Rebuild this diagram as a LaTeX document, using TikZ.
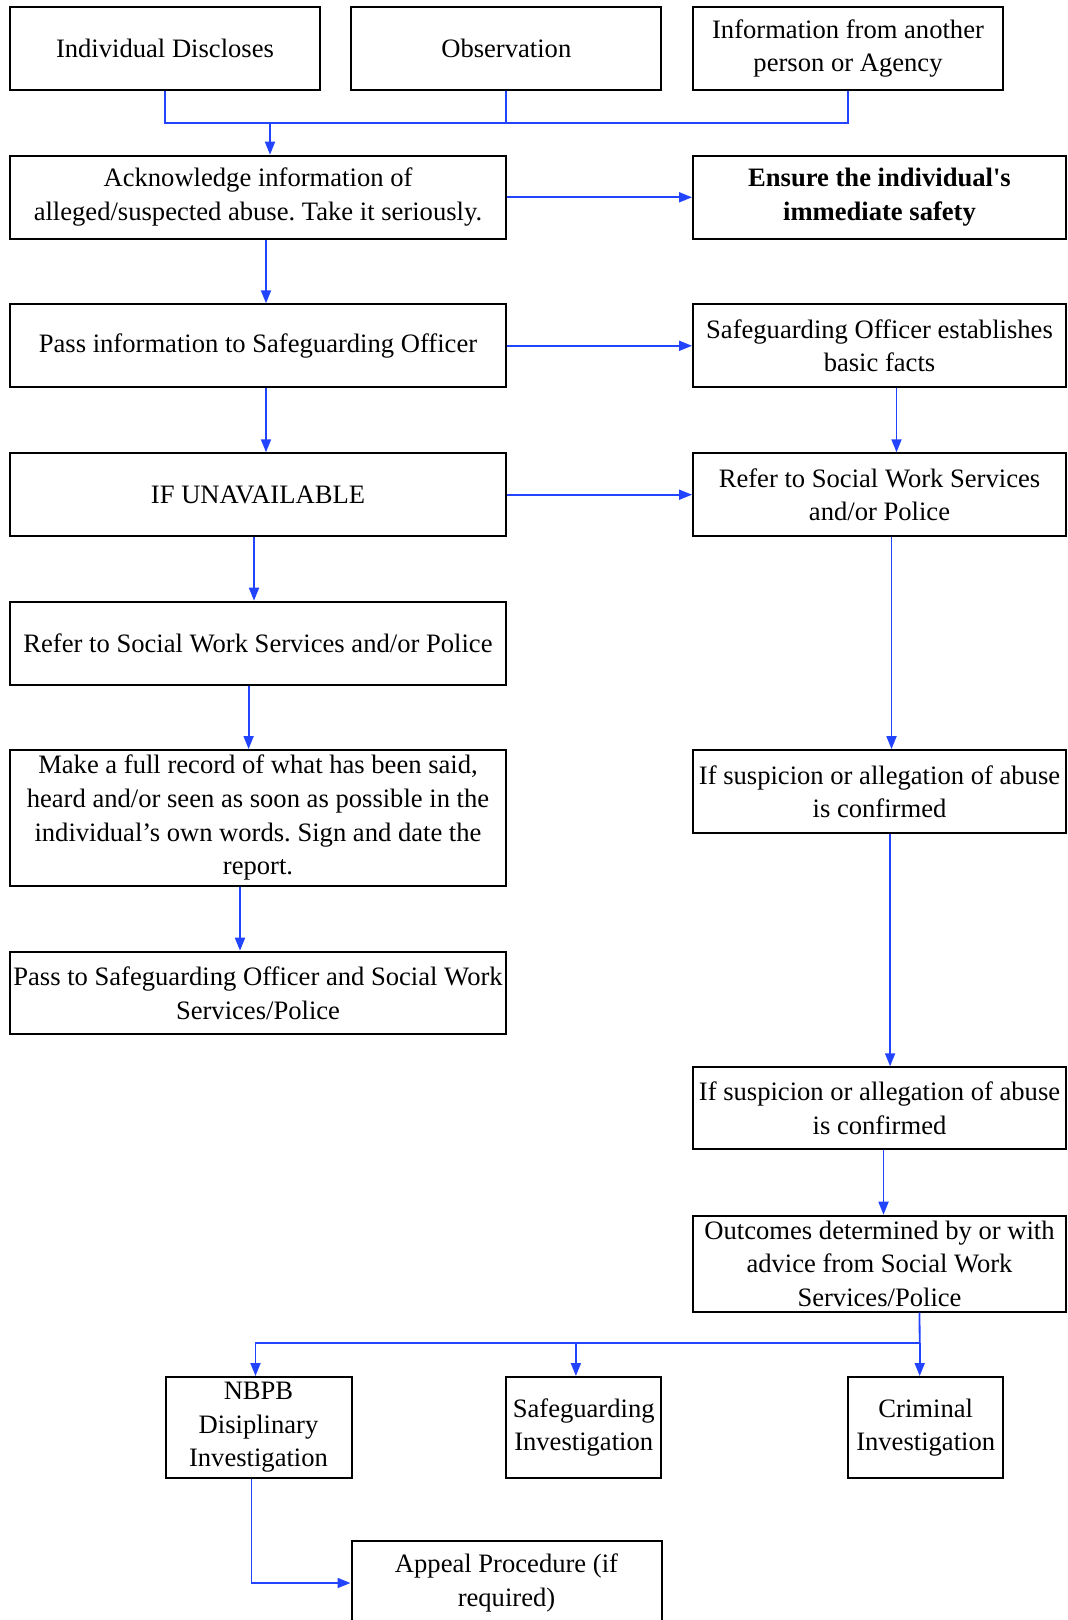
\documentclass[tikz,border=0pt]{standalone}
\usepackage{fontspec}
\setmainfont{Liberation Serif}[Ligatures=TeXOff]
\usetikzlibrary{arrows.meta}
\definecolor{flowblue}{RGB}{34,68,255}
\frenchspacing
\begin{document}
\begin{tikzpicture}[x=0.5pt,y=-0.5pt,
 box/.style={draw,line width=1pt,inner sep=0pt,align=center,font=\fontsize{13.3}{16.8}\selectfont},
 flow/.style={draw=flowblue,line width=0.9pt},
 arr/.style={flow,-{Triangle[length=6.5pt,width=5pt]}}]
 \useasboundingbox (0,0) rectangle (1068,1620);
 % top row
 \node[box,minimum width=155pt,minimum height=41.3pt] (disc) at (165,48.7) {Individual Discloses};
 \node[box,minimum width=155pt,minimum height=41.3pt] (obs) at (506.3,48.7) {Observation};
 \node[box,minimum width=155pt,minimum height=41.3pt] (info) at (848,48.7) {Information from another\\person or Agency};
 % left column
 \node[box,minimum width=248pt,minimum height=41.6pt] (ack) at (258,197.3) {Acknowledge information of\\alleged/suspected abuse. Take it seriously.};
 \node[box,minimum width=248pt,minimum height=41.5pt] (pass) at (258,345.8) {Pass information to Safeguarding Officer};
 \node[box,minimum width=248pt,minimum height=41.4pt] (ifun) at (258,494.7) {IF UNAVAILABLE};
 \node[box,minimum width=248pt,minimum height=41.6pt] (referL) at (258,643.3) {Refer to Social Work Services and/or Police};
 \node[box,minimum width=248pt,minimum height=67.8pt] (record) at (258,817.8) {Make a full record of what has been said,\\heard and/or seen as soon as possible in the\\individual’s own words. Sign and date the\\report.};
 \node[box,minimum width=248pt,minimum height=41.3pt] (passSO) at (258,993) {Pass to Safeguarding Officer and Social Work\\Services/Police};
 % right column
 \node[box,minimum width=186.5pt,minimum height=41.6pt,font=\fontsize{13.3}{16.8}\selectfont\bfseries] (safety) at (879.5,197.3) {Ensure the individual's\\immediate safety};
 \node[box,minimum width=186.5pt,minimum height=41.5pt] (sofacts) at (879.5,345.8) {Safeguarding Officer establishes\\basic facts};
 \node[box,minimum width=186.5pt,minimum height=41.4pt] (referR) at (879.5,494.7) {Refer to Social Work Services\\and/or Police};
 \node[box,minimum width=186.5pt,minimum height=41.6pt] (susp1) at (879.5,791.7) {If suspicion or allegation of abuse\\is confirmed};
 \node[box,minimum width=186.5pt,minimum height=41pt] (susp2) at (879.5,1108.3) {If suspicion or allegation of abuse\\is confirmed};
 \node[box,minimum width=186.5pt,minimum height=48pt] (outc) at (879.5,1263.7) {Outcomes determined by or with\\advice from Social Work\\Services/Police};
 % bottom row
 \node[box,minimum width=93pt,minimum height=50.5pt] (nbpb) at (258.5,1427.5) {NBPB\\Disiplinary\\Investigation};
 \node[box,minimum width=77.7pt,minimum height=50.5pt] (safeinv) at (583.7,1427.5) {Safeguarding\\Investigation};
 \node[box,minimum width=77.7pt,minimum height=50.5pt] (crim) at (925.7,1427.5) {Criminal\\Investigation};
 \node[box,minimum width=155pt,minimum height=42pt] (appeal) at (506.5,1583) {Appeal Procedure (if\\required)};
 % joining the three sources
 \coordinate (join) at (270,123.3);
 \draw[flow] (disc.south) |- (join) -| (info.south);
 \draw[flow] (obs.south) -- (obs.south |- join);
 \draw[arr] (join) -- (join |- ack.north);
 % left flow
 \draw[arr] ([xshift=4pt]ack.south) -- ([xshift=4pt]pass.north);
 \draw[arr] ([xshift=4pt]pass.south) -- ([xshift=4pt]ifun.north);
 \draw[arr] ([xshift=-2pt]ifun.south) -- ([xshift=-2pt]referL.north);
 \draw[arr] ([xshift=-4.7pt]referL.south) -- ([xshift=-4.7pt]record.north);
 \draw[arr] ([xshift=-9pt]record.south) -- ([xshift=-9pt]passSO.north);
 % across
 \draw[arr] (ack.east) -- (safety.west);
 \draw[arr] (pass.east) -- (sofacts.west);
 \draw[arr] (ifun.east) -- (referR.west);
 % right flow
 \draw[arr] ([xshift=8.5pt]sofacts.south) -- ([xshift=8.5pt]referR.north);
 \draw[arr] ([xshift=6pt]referR.south) -- ([xshift=6pt]susp1.north);
 \draw[arr] ([xshift=5.3pt]susp1.south) -- ([xshift=5.3pt]susp2.north);
 \draw[arr] ([xshift=2pt]susp2.south) -- ([xshift=2pt]outc.north);
 % outcomes
 \coordinate (split) at (919.7,1343.3);
 \draw[flow] ([xshift=20pt]outc.south) -- (split);
 \draw[arr] (split) -- (split |- crim.north);
 \draw[arr] (split) -| ([xshift=-1.5pt]nbpb.north);
 \draw[arr] ([xshift=-3.9pt]safeinv.north |- split) -- ([xshift=-3.9pt]safeinv.north);
 \draw[arr] ([xshift=-3.5pt]nbpb.south) |- (appeal.west);
\end{tikzpicture}
\end{document}
